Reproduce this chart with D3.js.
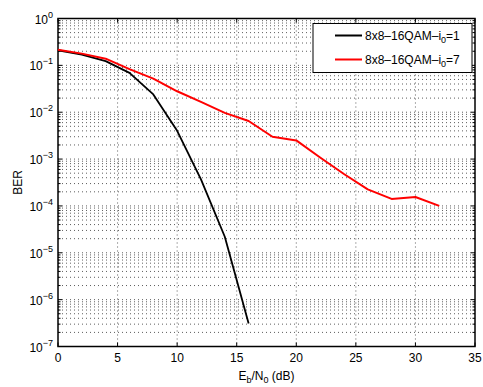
<!DOCTYPE html>
<html>
<head>
<meta charset="utf-8">
<script src="https://cdn.jsdelivr.net/npm/d3@7"></script>
<style>
  body { margin: 0; background: #fff; }
  text { font-family: "Liberation Sans", Arial, sans-serif; fill: #000; }
</style>
</head>
<body>
<svg id="chart"></svg>
<script>
// Eb/N0 (dB) sample points
const snrA = [0, 2, 4, 6, 8, 10, 12, 14, 16];
const berA = [0.21, 0.17, 0.123, 0.069, 0.024, 0.004, 3.7e-4, 2.2e-5, 3.1e-7];

const snrB = [0, 2, 4, 6, 8, 10, 12, 14, 16, 18, 20, 22, 24, 26, 28, 30, 32];
const berB = [0.216, 0.178, 0.139, 0.083, 0.052, 0.028, 0.0166, 0.0097, 0.0065,
  0.003, 0.0025, 0.00108, 0.00048, 0.000226, 0.000141, 0.000155, 0.0001];

const seriesNames = ["8x8\u201316QAM\u2013i", "8x8\u201316QAM\u2013i"];
const seriesSub = ["=1", "=7"];
const seriesColors = ["#000000", "#ff0000"];

const xTicks = [0, 5, 10, 15, 20, 25, 30, 35];
const yExps = [-7, -6, -5, -4, -3, -2, -1, 0];

const width = 483, height = 387;
const pLeft = 58, pRight = 475, pTop = 18.5, pBottom = 346.5;
const fs = 12, fsSub = 9;

const svg = d3.select("#chart").attr("width", width).attr("height", height);

const x = d3.scaleLinear().domain([0, 35]).range([pLeft, pRight]);
const y = d3.scaleLog().domain([1e-7, 1]).range([pBottom, pTop]);

// grid
const grid = svg.append("g")
  .attr("stroke", "#333")
  .attr("stroke-width", 0.8)
  .attr("stroke-dasharray", "1,3");

xTicks.slice(1, -1).forEach(function (t) {
  grid.append("line")
    .attr("x1", x(t)).attr("x2", x(t))
    .attr("y1", pTop).attr("y2", pBottom);
});

const yMinor = [];
yExps.slice(0, -1).forEach(function (e) {
  for (let m = 1; m <= 9; m++) yMinor.push(m * Math.pow(10, e));
});
yMinor.forEach(function (v) {
  if (v <= 1e-7) return;
  grid.append("line")
    .attr("x1", pLeft).attr("x2", pRight)
    .attr("y1", y(v)).attr("y2", y(v));
});

// ticks (inward, on both sides)
const ticks = svg.append("g").attr("stroke", "#000").attr("stroke-width", 1);
xTicks.forEach(function (t) {
  ticks.append("line").attr("x1", x(t)).attr("x2", x(t)).attr("y1", pBottom).attr("y2", pBottom - 4);
  ticks.append("line").attr("x1", x(t)).attr("x2", x(t)).attr("y1", pTop).attr("y2", pTop + 4);
});
yMinor.forEach(function (v) {
  const len = (Math.abs(Math.log10(v) - Math.round(Math.log10(v))) < 1e-9) ? 4 : 2.5;
  ticks.append("line").attr("x1", pLeft).attr("x2", pLeft + len).attr("y1", y(v)).attr("y2", y(v));
  ticks.append("line").attr("x1", pRight).attr("x2", pRight - len).attr("y1", y(v)).attr("y2", y(v));
});

// box
svg.append("rect")
  .attr("x", pLeft).attr("y", pTop)
  .attr("width", pRight - pLeft).attr("height", pBottom - pTop)
  .attr("fill", "none").attr("stroke", "#000").attr("stroke-width", 1.5);

// tick labels
svg.append("g").selectAll("text")
  .data(xTicks).enter().append("text")
  .attr("x", function (d) { return x(d); })
  .attr("y", pBottom + 15.5)
  .attr("text-anchor", "middle")
  .attr("font-size", fs)
  .text(function (d) { return d; });

const yl = svg.append("g").selectAll("text")
  .data(yExps).enter().append("text")
  .attr("x", pLeft - 5)
  .attr("y", function (d) { return y(Math.pow(10, d)) + 5; })
  .attr("text-anchor", "end")
  .attr("font-size", fs);
yl.append("tspan").text("10");
yl.append("tspan")
  .attr("dy", -6)
  .attr("font-size", fsSub)
  .text(function (d) { return d === 0 ? "0" : "\u2212" + (-d); });

// axis labels
const xl = svg.append("text")
  .attr("x", (pLeft + pRight) / 2)
  .attr("y", 380)
  .attr("text-anchor", "middle")
  .attr("font-size", fs);
xl.append("tspan").text("E");
xl.append("tspan").attr("dy", 3).attr("font-size", fsSub).text("b");
xl.append("tspan").attr("dy", -3).text("/N");
xl.append("tspan").attr("dy", 3).attr("font-size", fsSub).text("0");
xl.append("tspan").attr("dy", -3).text(" (dB)");

svg.append("text")
  .attr("transform", "translate(22," + ((pTop + pBottom) / 2) + ") rotate(-90)")
  .attr("text-anchor", "middle")
  .attr("font-size", fs)
  .text("BER");

// lines
const line = d3.line()
  .x(function (d) { return x(d[0]); })
  .y(function (d) { return y(d[1]); });

const dataSets = [d3.zip(snrA, berA), d3.zip(snrB, berB)];
dataSets.forEach(function (ds, i) {
  svg.append("path")
    .datum(ds)
    .attr("fill", "none")
    .attr("stroke", seriesColors[i])
    .attr("stroke-width", i === 0 ? 1.8 : 2)
    .attr("stroke-linejoin", "round")
    .attr("d", line);
});

// legend
const lg = svg.append("g");
lg.append("rect")
  .attr("x", 313).attr("y", 23.5)
  .attr("width", 159).attr("height", 49)
  .attr("fill", "#fff").attr("stroke", "#000").attr("stroke-width", 1);
seriesNames.forEach(function (name, i) {
  const ly = 35.5 + i * 24;
  lg.append("line")
    .attr("x1", 335).attr("x2", 362)
    .attr("y1", ly).attr("y2", ly)
    .attr("stroke", seriesColors[i]).attr("stroke-width", 2);
  const t = lg.append("text")
    .attr("x", 365).attr("y", ly + 4)
    .attr("font-size", fs);
  t.append("tspan").text(name);
  t.append("tspan").attr("dy", 3).attr("font-size", fsSub).text("0");
  t.append("tspan").attr("dy", -3).text(seriesSub[i]);
});
</script>
</body>
</html>
